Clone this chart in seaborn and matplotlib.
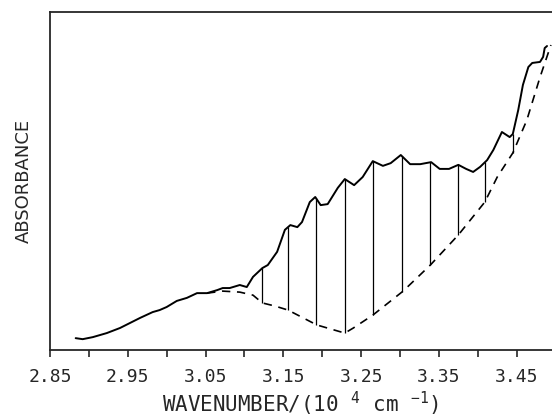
import numpy as np
import pandas as pd
import seaborn as sns
import matplotlib
matplotlib.use("Agg")
import matplotlib.pyplot as plt

# spectrum (wavenumber in 10^4 cm^-1, absorbance in arbitrary units)
wavenumber = [2.883, 2.892, 2.905, 2.923, 2.940, 2.953, 2.966, 2.982, 2.991, 3.000,
              3.013, 3.026, 3.039, 3.052, 3.065, 3.072, 3.081, 3.094, 3.103, 3.111,
              3.123, 3.130, 3.142, 3.152, 3.159, 3.168, 3.174, 3.184, 3.191, 3.198,
              3.207, 3.220, 3.229, 3.241, 3.252, 3.265, 3.278, 3.288, 3.301, 3.313,
              3.326, 3.340, 3.351, 3.363, 3.375, 3.385, 3.394, 3.403, 3.412, 3.420,
              3.431, 3.441, 3.445, 3.452, 3.458, 3.465, 3.470, 3.480, 3.484, 3.486,
              3.489]
absorbance = [0.035, 0.032, 0.038, 0.050, 0.065, 0.080, 0.095, 0.112, 0.118, 0.127,
              0.145, 0.154, 0.168, 0.168, 0.177, 0.183, 0.183, 0.192, 0.186, 0.216,
              0.242, 0.251, 0.290, 0.355, 0.369, 0.363, 0.378, 0.437, 0.452, 0.428,
              0.431, 0.479, 0.505, 0.487, 0.511, 0.558, 0.544, 0.552, 0.576, 0.549,
              0.549, 0.555, 0.535, 0.535, 0.547, 0.535, 0.526, 0.541, 0.561, 0.591,
              0.644, 0.629, 0.638, 0.709, 0.783, 0.836, 0.848, 0.851, 0.866, 0.892,
              0.898]

# background (dashed baseline)
base_wavenumber = [3.052, 3.072, 3.094, 3.111, 3.123, 3.139, 3.156, 3.193, 3.229, 3.240,
                   3.265, 3.304, 3.339, 3.375, 3.409, 3.425, 3.445, 3.463, 3.480, 3.494]
base_absorbance = [0.168, 0.174, 0.171, 0.162, 0.139, 0.130, 0.118, 0.074, 0.050, 0.065,
                   0.103, 0.174, 0.251, 0.340, 0.437, 0.511, 0.582, 0.679, 0.806, 0.901]

# positions of the marked bands
band_positions = [3.123, 3.156, 3.192, 3.229, 3.265, 3.302, 3.339, 3.375, 3.409, 3.445]

tick_values = np.round(np.arange(2.85, 3.451, 0.05), 2)
label_values = [2.85, 2.95, 3.05, 3.15, 3.25, 3.35, 3.45]

sns.set_style("ticks")
plt.rcParams['font.family'] = ['DejaVu Sans']
plt.rcParams['mathtext.fontset'] = 'custom'
plt.rcParams['mathtext.rm'] = 'DejaVu Sans Mono'

fig = plt.figure(figsize=(5.52, 4.17), dpi=100)
ax = fig.add_axes([50 / 552, 67 / 417, 502 / 552, 338.5 / 417])

spec = pd.DataFrame({"x": wavenumber, "y": absorbance})
base = pd.DataFrame({"x": base_wavenumber, "y": base_absorbance})

sns.lineplot(data=spec, x="x", y="y", sort=False, color="black", linewidth=1.4, ax=ax)
sns.lineplot(data=base, x="x", y="y", sort=False, color="black", linewidth=1.2,
             linestyle=(0, (5, 4)), ax=ax)

tops = np.interp(band_positions, wavenumber, absorbance)
bottoms = np.interp(band_positions, base_wavenumber, base_absorbance)
ax.vlines(band_positions, bottoms, tops, color="black", linewidth=0.9)

ax.set_xlim(2.85, 3.4954)
ax.set_ylim(0, 1)
ax.set_xticks(tick_values)
ax.set_xticklabels(["%.2f" % v if round(v, 2) in label_values else "" for v in tick_values],
                   fontfamily="DejaVu Sans Mono")
ax.set_yticks([])
ax.tick_params(axis="x", direction="out", length=5, width=1.2, labelsize=13, pad=8)
for side in ["left", "bottom", "top"]:
    ax.spines[side].set_linewidth(1.3)
ax.spines["right"].set_visible(False)

ax.set_xlabel(r"WAVENUMBER/(10 $\mathrm{^{4}}$ cm $\mathrm{^{-1}}$)", fontsize=15,
              fontfamily="DejaVu Sans Mono", labelpad=3)
ax.set_ylabel("ABSORBANCE", fontsize=13, labelpad=12)

fig.savefig("out.png", dpi=100)
